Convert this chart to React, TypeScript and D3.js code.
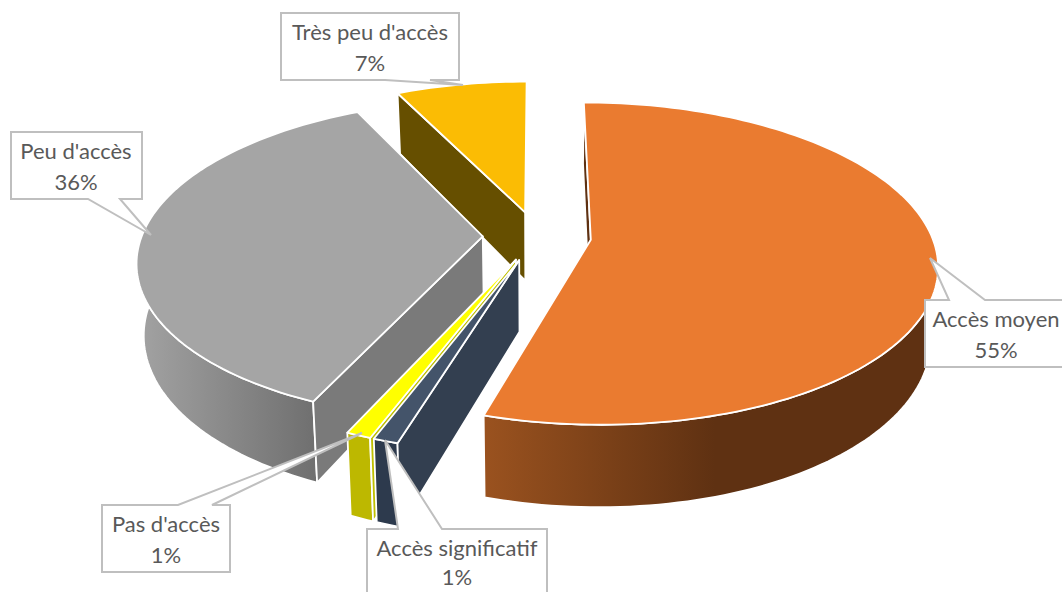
import React from "react";
import * as d3 from "d3";

const categories = ["Accès moyen", "Accès significatif", "Pas d'accès", "Peu d'accès", "Très peu d'accès"];
const values = [54.7, 1, 1, 36.1, 7.2];
const percentLabels = ["55%", "1%", "1%", "36%", "7%"];
const topColors = ["#EA7B30", "#44546A", "#FFFF00", "#A5A5A5", "#FBBC04"];
const wallColors = ["#5F3112", "#333F50", "#BFBF00", "#7A7A7A", "#664F00"];
const sideStops = [
  ["#9A521F", "#5F3112"],
  ["#2D3A4D", "#2D3A4D"],
  ["#BDB800", "#BDB800"],
  ["#A2A2A2", "#6E6E6E"],
  ["#664F00", "#664F00"],
];
const drawOrder = [4, 3, 2, 1, 0];

// layout of callouts: box [x0,y0,x1,y1], pointer base [xa,xb] on edge, tip [x,y]
const callouts = [
  { box: [925, 300, 1066, 367], base: [949, 985], tip: [930, 258], edge: "top", text: [996, 327, 358] },
  { box: [367, 529, 547, 600], base: [398, 442], tip: [385, 440], edge: "top", text: [457, 556, 585] },
  { box: [102, 505, 230, 572], base: [178, 212], tip: [362, 433], edge: "top", text: [166, 532, 563] },
  { box: [11, 132, 142, 199], base: [88, 120], tip: [151, 235], edge: "bottom", text: [76, 159, 190] },
  { box: [281, 13, 459, 80], base: [385, 430], tip: [463, 85], edge: "bottom", text: [370, 40, 71] },
];

const W = 1062, H = 592;
const cx = 537, cy = 236, R = 341, ky = 156.5, persp = 0.148, explode = 0.159, depth = 70, dropShrink = 0.018;

const project = (X: number, Z: number, drop = 0): [number, number] => {
  const k = 1 / (1 + persp * Z);
  return [cx + R * X * k * (1 - dropShrink * drop), cy - ky * Z * k + drop * depth * k];
};

const pieGen = d3.pie<number>().sort(null).startAngle(0).endAngle(2 * Math.PI);
const arcs = pieGen(values);
const line = d3.line();
const polyPath = (pts: [number, number][]) => line(pts) + "Z";

function slicePaths(i: number) {
  const a = arcs[i];
  const mid = (a.startAngle + a.endAngle) / 2;
  const ox = explode * Math.sin(mid), oz = explode * Math.cos(mid);
  const n = Math.max(4, Math.ceil((a.endAngle - a.startAngle) * 40));
  const angles = d3.range(n + 1).map((j) => a.startAngle + ((a.endAngle - a.startAngle) * j) / n);
  const rim = (drop: number) => angles.map((t) => project(ox + Math.sin(t), oz + Math.cos(t), drop));
  const apex = (drop: number) => project(ox, oz, drop);
  const top = polyPath([apex(0), ...rim(0)]);
  const side = polyPath([...rim(0), ...rim(1).reverse()]);
  const r0 = rim(0)[0], r1 = rim(1)[0];
  const wall = polyPath([apex(0), r0, r1, apex(1)]);
  return { top, side, wall };
}

export default function App() {
  return (
    <svg width={W} height={H} viewBox={`0 0 ${W} ${H}`} style={{ position: "absolute", left: 0, top: 0, display: "block", background: "#fff" }}>
      <defs>
        <linearGradient id="side0" gradientUnits="userSpaceOnUse" x1={485} x2={715} y1={0} y2={0}>
          <stop offset="0" stopColor={sideStops[0][0]} />
          <stop offset="1" stopColor={sideStops[0][1]} />
        </linearGradient>
        <linearGradient id="side3" gradientUnits="userSpaceOnUse" x1={140} x2={320} y1={0} y2={0}>
          <stop offset="0" stopColor={sideStops[3][0]} />
          <stop offset="1" stopColor={sideStops[3][1]} />
        </linearGradient>
      </defs>
      {drawOrder.map((i) => {
        const p = slicePaths(i);
        const sideFill = i === 0 || i === 3 ? `url(#side${i})` : sideStops[i][0];
        return (
          <g key={categories[i]} stroke="#fff" strokeWidth={1.8} strokeLinejoin="round">
            <path d={p.side} fill={sideFill} />
            <path d={p.wall} fill={wallColors[i]} />
            <path d={p.top} fill={topColors[i]} />
          </g>
        );
      })}
      {callouts.map((c, i) => {
        const [x0, y0, x1, y1] = c.box;
        const ey = c.edge === "top" ? y0 : y1;
        const pts: [number, number][] =
          c.edge === "top"
            ? [[x0, y0], [c.base[0], ey], [c.tip[0], c.tip[1]], [c.base[1], ey], [x1, y0], [x1, y1], [x0, y1]]
            : [[x0, y0], [x1, y0], [x1, y1], [c.base[1], ey], [c.tip[0], c.tip[1]], [c.base[0], ey], [x0, y1]];
        return (
          <g key={categories[i]}>
            <path d={polyPath(pts)} fill="#fff" stroke="#BFBFBF" strokeWidth={2} />
            <text x={c.text[0]} y={c.text[1]} textAnchor="middle" fontFamily="Lato, sans-serif" fontSize={22} fill="#595959">{categories[i]}</text>
            <text x={c.text[0]} y={c.text[2]} textAnchor="middle" fontFamily="Lato, sans-serif" fontSize={22} fill="#595959">{percentLabels[i]}</text>
          </g>
        );
      })}
    </svg>
  );
}
